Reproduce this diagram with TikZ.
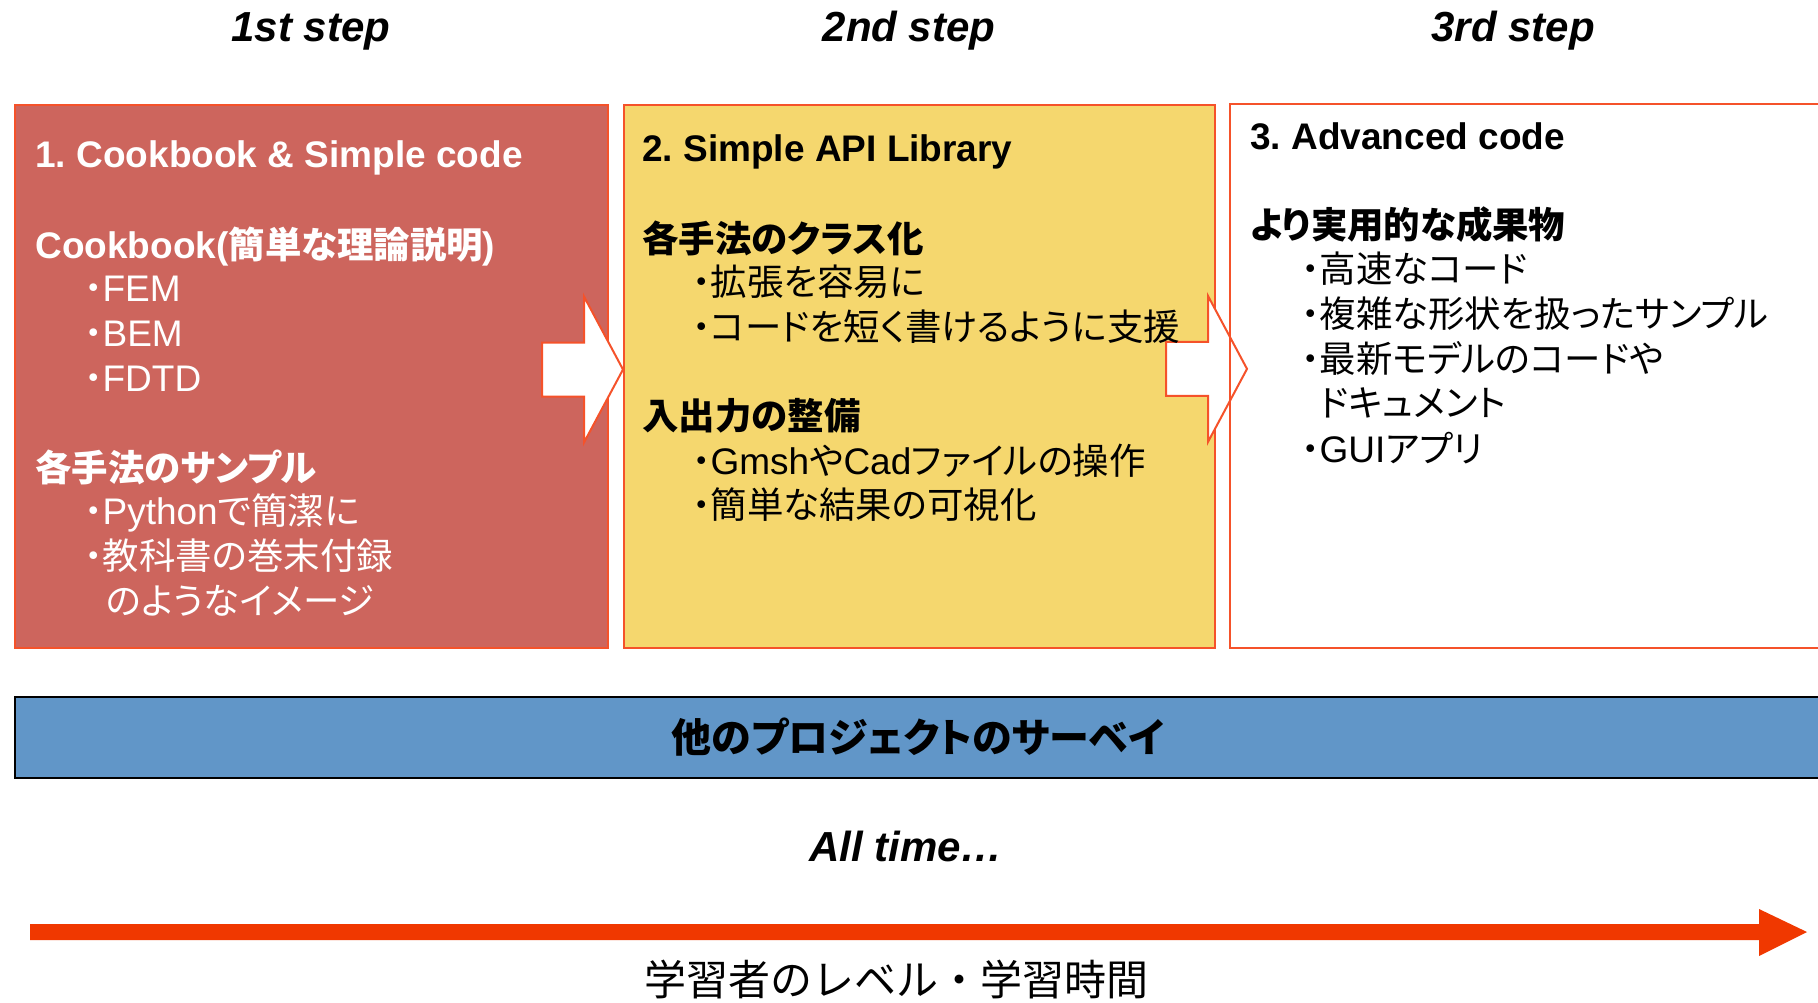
\documentclass[tikz,border=0pt]{standalone}
\usepackage{fontspec}
\setmainfont{Liberation Sans}
\newfontfamily\jp[Scale=0.985,RawFeature=+palt]{Noto Sans CJK JP}
\newfontfamily\jpf{Noto Sans CJK JP}
\usetikzlibrary{calc}
\definecolor{boxred}{RGB}{205,101,93}
\definecolor{boxyellow}{RGB}{245,215,110}
\definecolor{edgeorange}{RGB}{245,82,42}
\definecolor{barblue}{RGB}{97,150,200}
\definecolor{tlred}{RGB}{240,56,0}
\newcommand\J[1]{{\jp #1}}
\frenchspacing
\begin{document}
\begin{tikzpicture}[x=0.5pt,y=-0.5pt,
  boxnode/.style={anchor=north west, inner sep=0pt, minimum height=271.5pt},
  boxedge/.style={draw=edgeorange, line width=1pt},
  txt/.style={anchor=base west, inner sep=0pt, font=\fontsize{18.5}{22}\selectfont},
  bold/.style={txt, font=\fontsize{18.5}{22}\selectfont\bfseries},
  hdr/.style={anchor=base, inner sep=0pt, font=\fontsize{21}{25}\selectfont\bfseries\itshape},
  warrow/.style={draw=edgeorange, fill=white, line width=1pt, line join=miter}]
\useasboundingbox (0,0) rectangle (1818,1002);
\clip (0,0) rectangle (1818,1002);

% headers
\node[hdr] (h1) at (311,41) {1st step};
\node[hdr] (h2) at (909,41) {2nd step};
\node[hdr] (h3) at (1513,41) {3rd step};

% boxes
\node[boxnode, boxedge, fill=boxred, minimum width=296.5pt] (b1) at (14,104) {};
\node[boxnode, boxedge, fill=boxyellow, minimum width=295.5pt] (b2) at (623,104) {};
\node[boxnode, minimum width=350pt] (b3) at (1230,104) {};

% block arrows
\coordinate (t1) at ($(b2.west)+(0,-7)$);
\coordinate (t2) at ($(b3.west)+(17,-7)$);
\draw[warrow] (t1) -- ++(-39,-73) -- ++(0,46) -- ++(-42,0) -- ++(0,54) -- ++(42,0) -- ++(0,46) -- cycle;
\draw[warrow] (t2) -- ++(-39,-73) -- ++(0,46) -- ++(-42,0) -- ++(0,54) -- ++(42,0) -- ++(0,46) -- cycle;
\draw[boxedge] (b3.north west) rectangle (b3.south east);

% box 1 texts
\begin{scope}[every node/.append style={text=white}]
\node[bold] (a1) at (35,167) {1. Cookbook \& Simple code};
\node[bold] (a2) at (35,258) {Cookbook(\J{簡単な理論説明})};
\node[txt] (a3) at (84,301) {\J{・}FEM};
\node[txt] (a4) at (84,346) {\J{・}BEM};
\node[txt] (a5) at (84,391) {\J{・}FDTD};
\node[bold] (a6) at (35,481) {\J{各手法のサンプル}};
\node[txt] (a7) at (84,524) {\J{・}Python\J{で簡潔に}};
\node[txt] (a8) at (84,569) {\J{・教科書の巻末付録}};
\node[txt] (a9) at (106,614) {\J{のようなイメージ}};
\end{scope}

% box 2 texts
\node[bold] (c1) at (642,161) {2. Simple API Library};
\node[bold] (c2) at (642,252) {\J{各手法のクラス化}};
\node[txt] (c3) at (692,295) {\J{・拡張を容易に}};
\node[txt] (c4) at (692,340) {\J{・コードを短く書けるように支援}};
\node[bold] (c5) at (642,429) {\J{入出力の整備}};
\node[txt] (c6) at (692,474) {\J{・}Gmsh\J{や}Cad\J{ファイルの操作}};
\node[txt] (c7) at (692,518) {\J{・簡単な結果の可視化}};

% box 3 texts
\node[bold] (d1) at (1250,149) {3. Advanced code};
\node[bold] (d2) at (1250,238) {\J{より実用的な成果物}};
\node[txt] (d3) at (1301,282) {\J{・高速なコード}};
\node[txt] (d4) at (1301,327) {\J{・複雑な形状を扱ったサンプル}};
\node[txt] (d5) at (1301,372) {\J{・最新モデルのコードや}};
\node[txt] (d6) at (1319,416) {\J{ドキュメント}};
\node[txt] (d7) at (1301,462) {\J{・}GUI\J{アプリ}};

% survey bar
\node[anchor=north west, inner sep=0pt, draw=black, line width=1pt, fill=barblue,
      minimum width=950pt, minimum height=40.5pt] (bar) at (14,696) {};
\node[inner sep=0pt, font=\fontsize{20.3}{24}\selectfont\bfseries] (bartxt) at (918,737) {\J{他のプロジェクトのサーベイ}};

% all time
\node[hdr] (alltime) at (906,861) {All time…};

% timeline arrow
\coordinate (tl0) at (30,932);
\coordinate (tl1) at (1807,932);
\fill[tlred] (tl0) ++(0,-8) -- ++(1729,0) -- ++(0,-15) -- (tl1) -- ++(-48,24) -- ++(0,-16) -- ++(-1729,0) -- cycle;
\node[inner sep=0pt, font=\fontsize{21}{25}\selectfont\jpf] (axis) at (896,979) {学習者のレベル・学習時間};
\end{tikzpicture}
\end{document}
